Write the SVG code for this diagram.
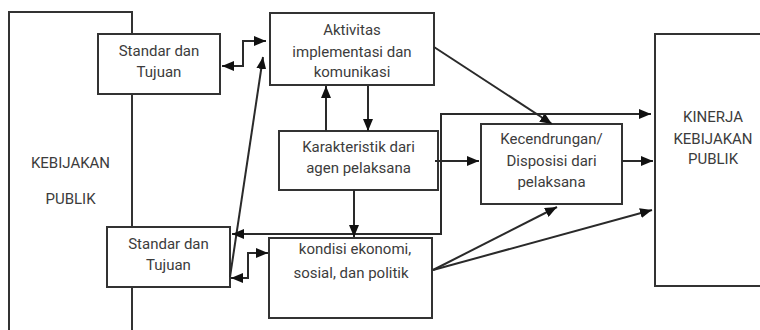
<svg xmlns="http://www.w3.org/2000/svg" width="760" height="330" viewBox="0 0 760 330">
  <style>
    .box { fill: #ffffff; stroke: #333333; stroke-width: 2; }
    .lbl { font-family: Roboto, "Liberation Sans", sans-serif; font-size: 15px; fill: #3c3c3c; text-anchor: middle; }
    .wire { fill: none; stroke: #2a2a2a; stroke-width: 2; }
    .one { marker-end: url(#head); }
    .two { marker-start: url(#head); marker-end: url(#head); }
  </style>
  <defs>
    <marker id="head" viewBox="0 0 12 10" refX="12" refY="5" markerWidth="12" markerHeight="10" markerUnits="userSpaceOnUse" orient="auto-start-reverse">
      <path d="M0,0 L12,5 L0,10 Z" fill="#111111"/>
    </marker>
  </defs>
  <rect width="760" height="330" fill="#ffffff"/>

  <!-- policy input block on the left -->
  <g id="kebijakan-publik">
    <rect class="box" x="9" y="12" width="123" height="330"/>
    <text class="lbl" x="70.5" y="167.5">KEBIJAKAN</text>
    <text class="lbl" x="70.5" y="203.5">PUBLIK</text>
  </g>

  <!-- performance output block on the right -->
  <g id="kinerja">
    <rect class="box" x="655" y="34" width="120" height="252"/>
    <text class="lbl" x="713" y="122">KINERJA</text>
    <text class="lbl" x="713" y="144">KEBIJAKAN</text>
    <text class="lbl" x="713" y="164">PUBLIK</text>
  </g>

  <g id="standar-atas">
    <rect class="box" x="98" y="34" width="122" height="60"/>
    <text class="lbl" x="159" y="56">Standar dan</text>
    <text class="lbl" x="159" y="77">Tujuan</text>
  </g>

  <g id="standar-bawah">
    <rect class="box" x="107" y="227" width="123" height="60"/>
    <text class="lbl" x="168.5" y="249">Standar dan</text>
    <text class="lbl" x="168.5" y="270">Tujuan</text>
  </g>

  <g id="aktivitas">
    <rect class="box" x="270" y="13" width="164" height="72"/>
    <text class="lbl" x="352" y="35">Aktivitas</text>
    <text class="lbl" x="352" y="57">implementasi dan</text>
    <text class="lbl" x="352" y="77">komunikasi</text>
  </g>

  <g id="karakteristik">
    <rect class="box" x="279" y="131" width="159" height="59"/>
    <text class="lbl" x="358.5" y="152">Karakteristik dari</text>
    <text class="lbl" x="358.5" y="173">agen pelaksana</text>
  </g>

  <g id="kecendrungan">
    <rect class="box" x="481" y="124" width="141" height="80"/>
    <text class="lbl" x="551.5" y="144">Kecendrungan/</text>
    <text class="lbl" x="551.5" y="166">Disposisi dari</text>
    <text class="lbl" x="551.5" y="187">pelaksana</text>
  </g>

  <g id="kondisi">
    <rect class="box" x="269" y="238" width="163" height="80"/>
    <text class="lbl" x="355" y="254">kondisi ekonomi,</text>
    <text class="lbl" x="351" y="278">sosial, dan politik</text>
  </g>

  <g id="connectors">
    <polyline class="wire two" points="222,66 243,66 243,41 266,41"/>
    <line class="wire one" x1="230" y1="277" x2="263" y2="57"/>
    <line class="wire one" x1="326" y1="131" x2="326" y2="86"/>
    <line class="wire one" x1="368" y1="86" x2="368" y2="131"/>
    <line class="wire one" x1="434" y1="47" x2="552" y2="124"/>
    <polyline class="wire two" points="232,234 441,234 441,114 651,114"/>
    <line class="wire one" x1="435" y1="161" x2="479" y2="161"/>
    <line class="wire one" x1="622" y1="161" x2="653" y2="161"/>
    <line class="wire one" x1="354" y1="190" x2="354" y2="237"/>
    <polyline class="wire two" points="231,278 248,278 248,253 268,253"/>
    <line class="wire one" x1="433" y1="270" x2="557" y2="207"/>
    <line class="wire one" x1="433" y1="270" x2="652" y2="210"/>
  </g>
</svg>
